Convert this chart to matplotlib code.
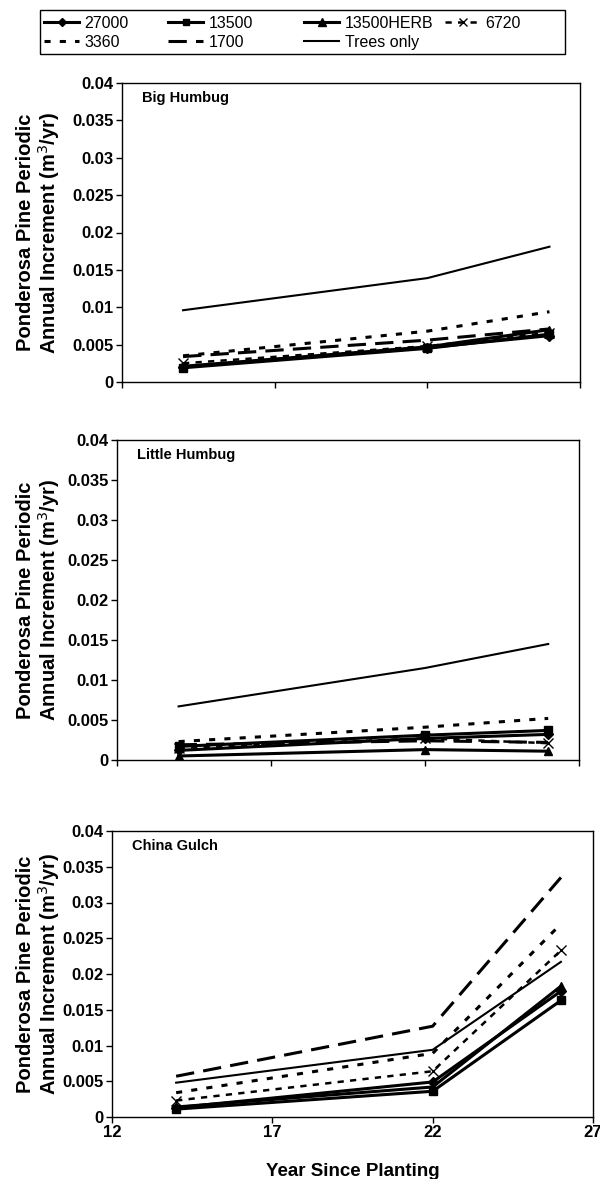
import matplotlib
matplotlib.use("Agg")
import matplotlib.pyplot as plt
from matplotlib.lines import Line2D
from matplotlib.patches import Rectangle
from matplotlib.ticker import FuncFormatter, FixedLocator

plt.rcParams['font.family'] = ['Liberation Sans', 'DejaVu Sans']

years = [14, 22, 26]
series_names = ["27000", "13500", "13500HERB", "6720", "3360", "1700", "Trees only"]
panel_titles = ["Big Humbug", "Little Humbug", "China Gulch"]

bh_27000 = [0.0020, 0.0046, 0.0062]
bh_13500 = [0.0019, 0.0045, 0.0064]
bh_13500herb = [0.0021, 0.0047, 0.0070]
bh_6720 = [0.0025, 0.0048, 0.0066]
bh_3360 = [0.0035, 0.0068, 0.0094]
bh_1700 = [0.0034, 0.0056, 0.0071]
bh_trees = [0.0096, 0.0139, 0.0181]

lh_27000 = [0.0012, 0.0027, 0.0032]
lh_13500 = [0.0017, 0.0031, 0.0037]
lh_13500herb = [0.0005, 0.0013, 0.0011]
lh_6720 = [0.0015, 0.0027, 0.0021]
lh_3360 = [0.0023, 0.0041, 0.0052]
lh_1700 = [0.0019, 0.0024, 0.0022]
lh_trees = [0.0067, 0.0115, 0.0145]

cg_27000 = [0.0013, 0.0049, 0.0176]
cg_13500 = [0.0011, 0.0036, 0.0163]
cg_13500herb = [0.0014, 0.0042, 0.0183]
cg_6720 = [0.0023, 0.0064, 0.0233]
cg_3360 = [0.0034, 0.0089, 0.0270]
cg_1700 = [0.0057, 0.0127, 0.0335]
cg_trees = [0.0048, 0.0094, 0.0217]

x_ticks = [12, 17, 22, 27]
y_ticks = [0, 0.005, 0.01, 0.015, 0.02, 0.025, 0.03, 0.035, 0.04]

panels = [
    [bh_27000, bh_13500, bh_13500herb, bh_6720, bh_3360, bh_1700, bh_trees],
    [lh_27000, lh_13500, lh_13500herb, lh_6720, lh_3360, lh_1700, lh_trees],
    [cg_27000, cg_13500, cg_13500herb, cg_6720, cg_3360, cg_1700, cg_trees],
]

styles = [
    dict(ls='-', lw=2.2, marker='D', ms=5),
    dict(ls='-', lw=2.2, marker='s', ms=5.5),
    dict(ls='-', lw=2.2, marker='^', ms=6),
    dict(ls=(0, (2.5, 2.5)), lw=1.8, marker='x', ms=7, mew=1.0),
    dict(ls=(0, (2.0, 3.0)), lw=2.2, marker=None),
    dict(ls=(0, (6, 3)), lw=2.2, marker=None),
    dict(ls='-', lw=1.5, marker=None),
]

W, H = 600, 1179
fig = plt.figure(figsize=(W / 100, H / 100), dpi=100)

# axes boxes in pixels: left, right, top, bottom
boxes = [(122, 580, 83, 382), (117, 579, 440, 760), (112, 593, 831, 1117)]

fmt = FuncFormatter(lambda v, p: f"{v:g}")

for i, (data, box) in enumerate(zip(panels, boxes)):
    l, r, t, b = box
    ax = fig.add_axes([l / W, 1 - b / H, (r - l) / W, (b - t) / H])
    for name, vals, st in zip(series_names, data, styles):
        ax.plot(years, vals, color='black', label=name, **st)
    ax.set_xlim(12, 27)
    ax.set_ylim(0, 0.04)
    ax.xaxis.set_major_locator(FixedLocator(x_ticks))
    ax.yaxis.set_major_locator(FixedLocator(y_ticks))
    ax.yaxis.set_major_formatter(fmt)
    ax.tick_params(axis='both', direction='out', length=4, width=1, labelsize=12, pad=2)
    for lab in ax.get_yticklabels():
        lab.set_fontweight('bold')
    if i < 2:
        ax.tick_params(axis='x', labelbottom=False)
    else:
        for lab in ax.get_xticklabels():
            lab.set_fontweight('bold')
        ax.set_xlabel("Year Since Planting", fontsize=13.5, fontweight='bold', labelpad=16)
    for s in ax.spines.values():
        s.set_linewidth(1.0)
    ax.text(20 / (r - l), 1 - 15 / (b - t), panel_titles[i], transform=ax.transAxes,
            fontsize=10.5, fontweight='bold', ha='left', va='center')
    ax.set_ylabel("Ponderosa Pine Periodic\nAnnual Increment (m$^3$/yr)",
                  fontsize=14.5, fontweight='bold', linespacing=1.05)
    ax.yaxis.set_label_coords((62 - l) / (r - l), 0.5)

# legend: one figure legend per column, row-major order
handles = [Line2D([0], [0], color='black', **st) for st in styles]
col_items = [[0, 4], [1, 5], [2, 6], [3]]
col_x = [44, 168, 304, 445]
for cx, items in zip(col_x, col_items):
    fig.legend([handles[k] for k in items], [series_names[k] for k in items],
               loc='upper left', bbox_to_anchor=(cx / W, 1 - 16 / H),
               frameon=False, fontsize=11.5, handlelength=2.2, handletextpad=0.35,
               borderpad=0, borderaxespad=0, labelspacing=0.25, markerscale=0.9)

fig.patches.append(Rectangle((40 / W, 1 - 54 / H), (565 - 40) / W, (54 - 10) / H,
                             transform=fig.transFigure, fill=False, edgecolor='black',
                             linewidth=1.0))

fig.savefig("out.png", dpi=100)
